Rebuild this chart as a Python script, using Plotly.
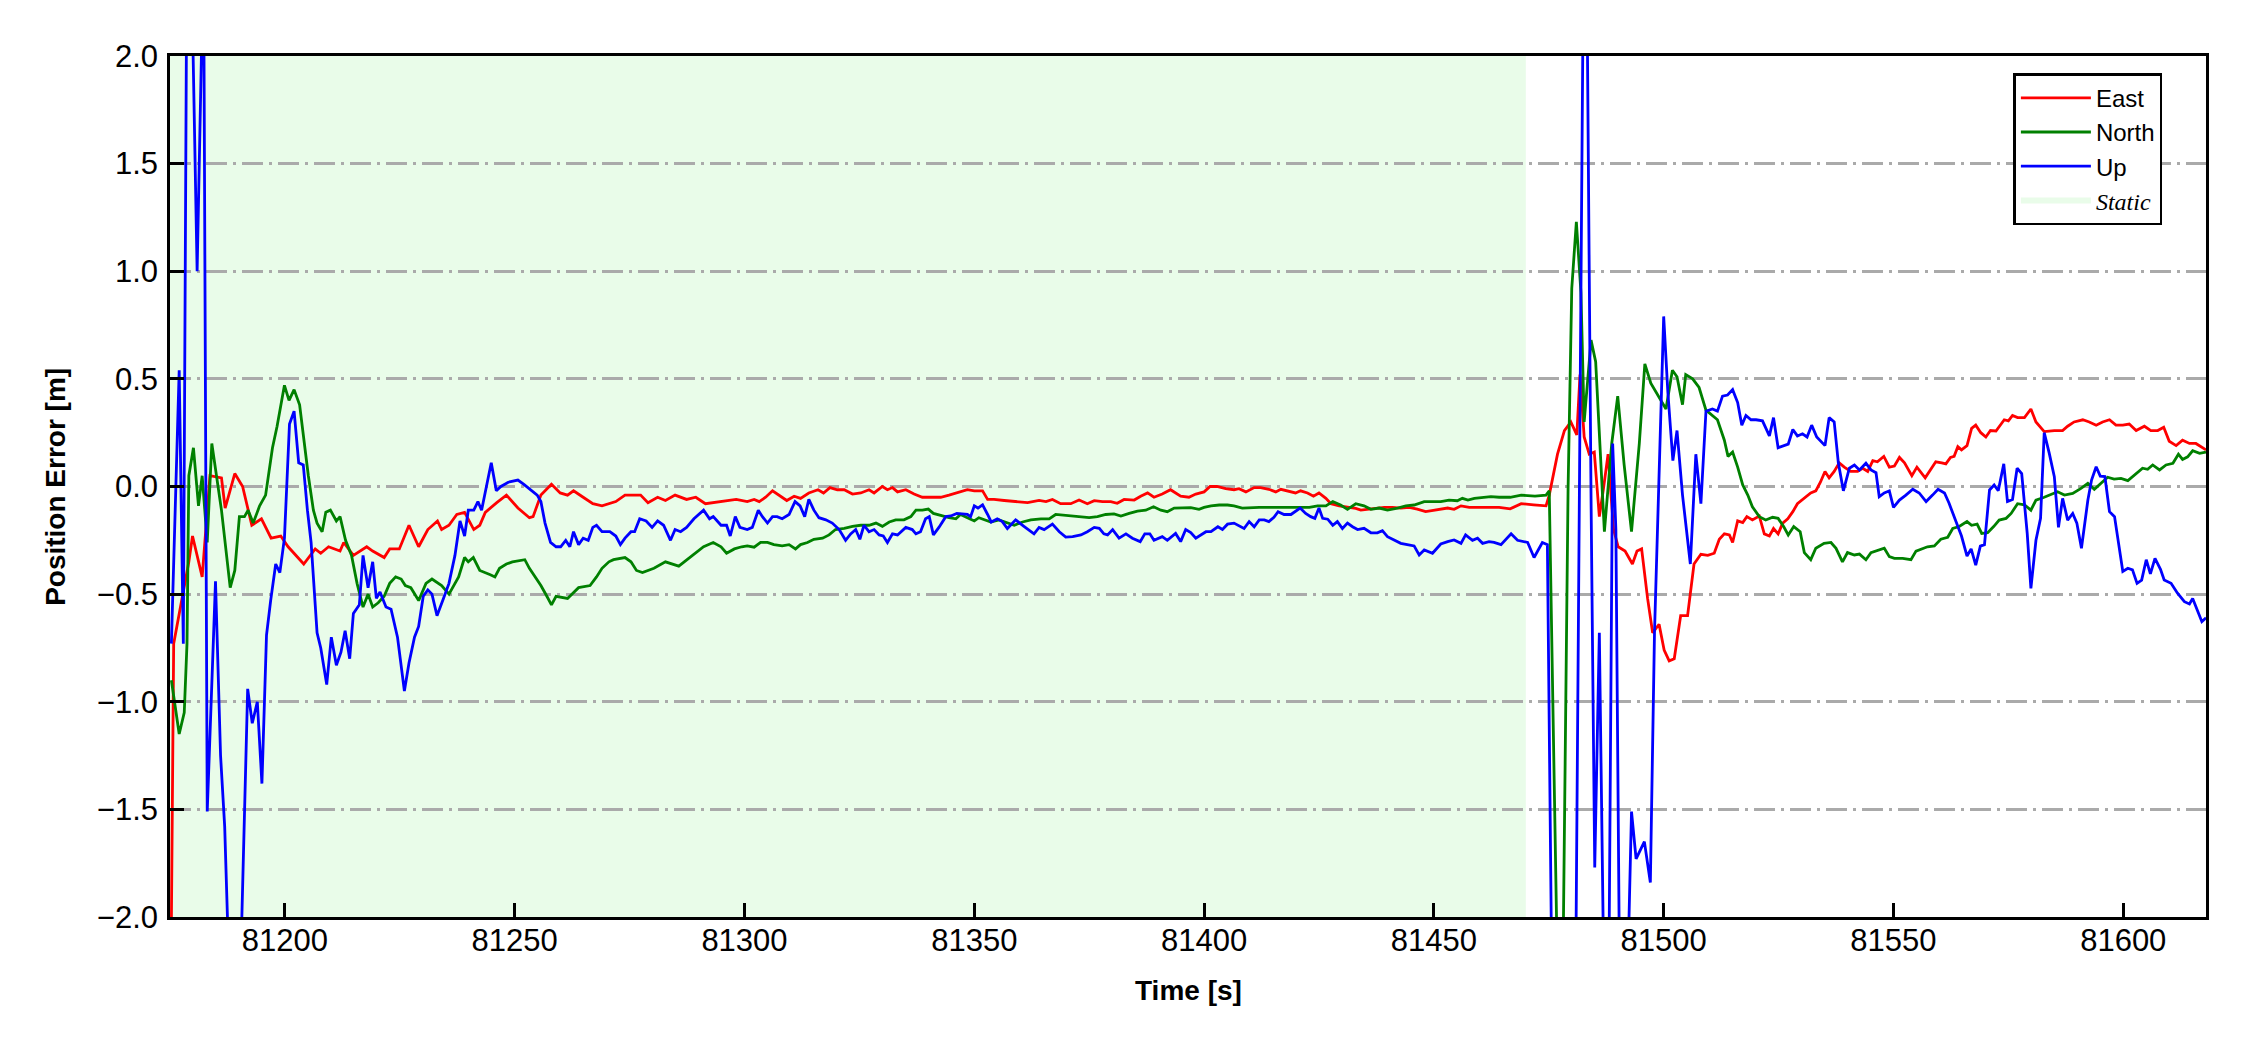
import plotly.graph_objects as go

# ---------------- data ----------------
east_t = [81175.0, 81175.8, 81179.1, 81179.9, 81182.0, 81183.7, 81186.2, 81187.0, 81189.1, 81190.8,
          81192.8, 81194.9, 81197.0, 81199.1, 81200.7, 81204.1, 81206.6, 81207.8, 81209.5, 81212.0,
          81212.8, 81214.9, 81217.8, 81219.1, 81221.6, 81222.8, 81224.9, 81227.0, 81229.1, 81231.1,
          81233.2, 81234.1, 81235.7, 81237.4, 81239.1, 81241.1, 81242.4, 81243.6, 81246.1, 81248.2,
          81250.7, 81253.2, 81254.0, 81255.7, 81258.0, 81259.9, 81261.5, 81262.8, 81264.9, 81267.0,
          81269.0, 81272.0, 81274.0, 81277.4, 81279.0, 81281.1, 81282.8, 81284.9, 81287.4, 81289.4,
          81291.5, 81293.2, 81295.7, 81298.2, 81300.6, 81302.1, 81303.2, 81304.6, 81306.1, 81307.5,
          81309.2, 81310.8, 81312.2, 81314.0, 81316.0, 81317.2, 81318.6, 81320.2, 81321.7, 81323.5,
          81325.3, 81327.1, 81328.2, 81330.0, 81331.1, 81332.2, 81333.3, 81335.1, 81336.9, 81338.7,
          81340.9, 81342.7, 81344.5, 81346.3, 81348.5, 81350.0, 81351.8, 81352.9, 81354.3, 81356.5,
          81358.7, 81361.6, 81364.1, 81365.6, 81367.0, 81368.8, 81371.0, 81372.8, 81374.6, 81376.1,
          81377.9, 81379.7, 81381.1, 81382.6, 81384.8, 81386.2, 81387.7, 81389.1, 81390.9, 81392.7,
          81394.9, 81396.7, 81398.2, 81400.0, 81401.3, 81402.8, 81404.7, 81406.5, 81407.6, 81409.1,
          81410.9, 81412.3, 81414.1, 81415.6, 81416.7, 81418.1, 81419.9, 81421.0, 81422.5, 81423.8,
          81425.0, 81426.5, 81427.6, 81429.4, 81431.2, 81433.0, 81434.1, 81435.6, 81437.4, 81439.2,
          81441.0, 81442.8, 81444.6, 81446.4, 81448.2, 81450.1, 81451.5, 81453.0, 81454.4, 81455.9,
          81457.7, 81459.5, 81461.7, 81464.2, 81466.6, 81469.0, 81471.7, 81474.4, 81475.1, 81476.9,
          81478.4, 81479.8, 81481.1, 81481.8, 81482.7, 81483.8, 81484.9, 81486.0, 81486.9, 81487.9,
          81489.1, 81490.1, 81491.6, 81493.2, 81494.2, 81495.2, 81496.5, 81497.6, 81499.0, 81500.1,
          81501.2, 81502.3, 81503.7, 81505.2, 81506.6, 81508.1, 81509.6, 81511.0, 81512.1, 81513.2,
          81514.3, 81515.0, 81516.1, 81517.2, 81518.1, 81519.3, 81520.8, 81521.9, 81523.0, 81523.9,
          81524.9, 81525.9, 81527.0, 81528.1, 81529.1, 81530.6, 81532.0, 81533.1, 81534.1, 81535.1,
          81536.0, 81537.1, 81538.2, 81539.3, 81540.7, 81542.2, 81543.3, 81544.4, 81545.5, 81546.5,
          81547.9, 81549.1, 81550.2, 81551.3, 81552.4, 81554.0, 81555.1, 81556.9, 81558.2, 81559.2,
          81560.5, 81561.4, 81562.4, 81563.2, 81564.0, 81564.8, 81566.0, 81567.0, 81567.9, 81569.0,
          81570.1, 81571.1, 81572.3, 81573.2, 81574.1, 81575.0, 81575.9, 81577.0, 81578.5, 81579.9,
          81581.0, 81582.8, 81585.0, 81586.8, 81587.9, 81589.3, 81591.2, 81592.6, 81594.1, 81595.5,
          81597.0, 81598.4, 81599.9, 81601.3, 81602.8, 81604.6, 81606.0, 81607.5, 81608.8, 81610.0,
          81611.5, 81612.9, 81614.4, 81615.8, 81618.0]
east_m = [-2.8, -0.73, -0.35, -0.23, -0.42, 0.05, 0.04, -0.10, 0.06, 0.0,
          -0.18, -0.15, -0.24, -0.23, -0.28, -0.36, -0.29, -0.31, -0.28, -0.30,
          -0.26, -0.32, -0.28, -0.30, -0.33, -0.29, -0.29, -0.18, -0.28, -0.20,
          -0.16, -0.20, -0.18, -0.13, -0.12, -0.20, -0.18, -0.12, -0.075, -0.04,
          -0.10, -0.145, -0.14, -0.04, 0.01, -0.03, -0.04, -0.02, -0.05, -0.08,
          -0.09, -0.07, -0.04, -0.04, -0.075, -0.05, -0.065, -0.04, -0.06, -0.05,
          -0.08, -0.075, -0.067, -0.06, -0.07, -0.06, -0.07, -0.05, -0.02, -0.04,
          -0.065, -0.045, -0.055, -0.03, -0.015, -0.03, -0.005, -0.015, -0.015, -0.035,
          -0.03, -0.015, -0.03, 0.0, -0.015, -0.005, -0.025, -0.015, -0.035, -0.05,
          -0.05, -0.05, -0.04, -0.03, -0.015, -0.02, -0.02, -0.06, -0.06, -0.065,
          -0.07, -0.075, -0.065, -0.07, -0.06, -0.08, -0.08, -0.063, -0.08, -0.066,
          -0.07, -0.07, -0.078, -0.06, -0.063, -0.045, -0.03, -0.05, -0.035, -0.015,
          -0.045, -0.05, -0.035, -0.025, 0.0, 0.0, -0.01, -0.015, -0.01, -0.025,
          -0.005, -0.005, -0.013, -0.025, -0.013, -0.02, -0.03, -0.02, -0.03, -0.045,
          -0.03, -0.055, -0.08, -0.09, -0.097, -0.102, -0.11, -0.106, -0.10, -0.097,
          -0.097, -0.10, -0.097, -0.105, -0.117, -0.11, -0.105, -0.10, -0.106, -0.09,
          -0.097, -0.097, -0.097, -0.097, -0.104, -0.08, -0.085, -0.09, -0.04, 0.15,
          0.26, 0.30, 0.24, 0.52, 0.23, 0.15, 0.16, -0.14, -0.01, 0.15,
          -0.20, -0.28, -0.30, -0.36, -0.30, -0.29, -0.52, -0.68, -0.64, -0.76,
          -0.81, -0.80, -0.60, -0.60, -0.36, -0.315, -0.32, -0.31, -0.245, -0.22,
          -0.225, -0.26, -0.16, -0.168, -0.14, -0.155, -0.137, -0.22, -0.23, -0.195,
          -0.22, -0.17, -0.15, -0.117, -0.08, -0.055, -0.03, -0.02, 0.02, 0.07,
          0.04, 0.07, 0.11, 0.09, 0.07, 0.07, 0.085, 0.07, 0.12, 0.115,
          0.14, 0.09, 0.095, 0.135, 0.11, 0.05, 0.09, 0.04, 0.085, 0.115,
          0.11, 0.105, 0.135, 0.14, 0.185, 0.17, 0.19, 0.27, 0.285, 0.25,
          0.23, 0.26, 0.258, 0.285, 0.31, 0.305, 0.33, 0.32, 0.32, 0.36,
          0.30, 0.255, 0.26, 0.26, 0.28, 0.30, 0.31, 0.30, 0.285, 0.30,
          0.31, 0.285, 0.285, 0.29, 0.26, 0.28, 0.26, 0.26, 0.275, 0.21,
          0.19, 0.215, 0.20, 0.20, 0.17]

north_t = [81175.3, 81177.0, 81178.1, 81178.7, 81179.1, 81180.1, 81181.2, 81182.0, 81183.1, 81184.1,
           81186.2, 81188.1, 81189.1, 81190.1, 81191.2, 81192.0, 81193.1, 81194.5, 81195.8, 81197.3,
           81198.3, 81199.9, 81200.9, 81202.0, 81203.2, 81204.1, 81205.1, 81206.2, 81207.0, 81208.1,
           81208.9, 81209.9, 81211.2, 81212.0, 81213.2, 81214.5, 81215.7, 81217.0, 81218.1, 81219.1,
           81220.3, 81221.6, 81222.8, 81224.1, 81225.3, 81226.2, 81227.4, 81229.1, 81230.7, 81232.0,
           81234.1, 81235.7, 81237.8, 81239.1, 81239.9, 81241.0, 81242.4, 81244.7, 81245.7, 81246.7,
           81248.2, 81249.5, 81252.2, 81253.2, 81254.5, 81255.7, 81257.0, 81258.0, 81259.0, 81261.5,
           81263.9, 81266.4, 81267.8, 81269.0, 81270.5, 81271.5, 81274.0, 81275.3, 81276.5, 81277.8,
           81280.3, 81282.8, 81285.7, 81288.6, 81291.1, 81293.2, 81294.9, 81296.1, 81297.8, 81299.4,
           81300.6, 81302.1, 81303.5, 81305.0, 81306.4, 81308.2, 81309.7, 81311.1, 81312.2, 81313.7,
           81315.1, 81317.0, 81318.4, 81319.8, 81321.7, 81323.5, 81325.3, 81327.1, 81328.6, 81330.0,
           81331.5, 81332.9, 81334.7, 81336.2, 81337.3, 81338.7, 81340.0, 81341.1, 81342.7, 81344.5,
           81346.0, 81347.0, 81348.5, 81350.0, 81351.0, 81352.1, 81353.6, 81355.4, 81357.2, 81358.7,
           81360.5, 81362.3, 81364.5, 81366.3, 81367.7, 81369.9, 81371.7, 81373.2, 81375.0, 81376.8,
           81378.6, 81380.4, 81381.9, 81383.7, 81385.5, 81387.3, 81389.0, 81390.6, 81392.0, 81393.5,
           81395.3, 81397.1, 81398.9, 81400.0, 81401.5, 81403.3, 81405.1, 81406.5, 81408.3, 81410.2,
           81412.0, 81413.8, 81415.6, 81417.4, 81419.2, 81421.0, 81422.9, 81424.7, 81426.5, 81428.0,
           81429.7, 81431.2, 81433.0, 81434.8, 81436.3, 81438.1, 81439.9, 81442.1, 81443.9, 81445.7,
           81447.9, 81449.7, 81451.5, 81453.3, 81455.1, 81456.2, 81457.4, 81458.8, 81460.6, 81462.4,
           81464.2, 81466.6, 81469.0, 81472.0, 81474.4, 81475.1, 81477.0, 81478.0, 81479.2, 81480.0,
           81481.0, 81482.0, 81482.7, 81484.2, 81485.2, 81487.1, 81488.7, 81490.0, 81491.4, 81493.0,
           81494.7, 81495.9, 81497.2, 81499.4, 81500.5, 81501.9, 81502.9, 81504.1, 81504.8, 81506.3,
           81507.7, 81509.2, 81510.6, 81511.7, 81513.2, 81514.0, 81515.0, 81516.1, 81517.2, 81518.3,
           81519.3, 81520.8, 81522.2, 81523.7, 81524.9, 81526.1, 81527.1, 81528.3, 81529.7, 81530.6,
           81532.0, 81533.1, 81534.9, 81536.4, 81537.5, 81538.9, 81540.0, 81541.5, 81542.6, 81544.0,
           81545.1, 81546.5, 81548.0, 81549.1, 81550.2, 81552.0, 81553.8, 81554.9, 81556.3, 81557.4,
           81558.9, 81560.3, 81561.8, 81562.9, 81564.3, 81566.0, 81567.0, 81568.2, 81569.2, 81570.5,
           81571.8, 81573.0, 81574.5, 81575.6, 81577.0, 81578.5, 81579.9, 81581.0, 81582.8, 81584.3,
           81585.7, 81587.2, 81589.0, 81590.8, 81592.3, 81593.7, 81595.1, 81596.6, 81598.0, 81599.5,
           81601.0, 81602.8, 81604.2, 81605.3, 81606.4, 81607.9, 81609.3, 81610.8, 81612.0, 81612.9,
           81614.0, 81615.1, 81616.6, 81618.0]
north_m = [-0.90, -1.15, -1.05, -0.73, 0.05, 0.18, -0.09, 0.05, -0.26, 0.20,
           -0.11, -0.47, -0.39, -0.14, -0.14, -0.11, -0.17, -0.09, -0.04, 0.18,
           0.28, 0.47, 0.40, 0.45, 0.38, 0.21, 0.05, -0.11, -0.17, -0.21,
           -0.12, -0.11, -0.16, -0.14, -0.25, -0.32, -0.45, -0.56, -0.50, -0.56,
           -0.54, -0.51, -0.45, -0.42, -0.43, -0.46, -0.47, -0.53, -0.45, -0.43,
           -0.46, -0.50, -0.42, -0.33, -0.35, -0.33, -0.39, -0.41, -0.42, -0.38,
           -0.36, -0.35, -0.34, -0.38, -0.42, -0.46, -0.51, -0.55, -0.51, -0.52,
           -0.47, -0.46, -0.42, -0.38, -0.35, -0.34, -0.33, -0.35, -0.39, -0.40,
           -0.38, -0.35, -0.37, -0.32, -0.28, -0.26, -0.28, -0.31, -0.29, -0.28,
           -0.276, -0.282, -0.26, -0.26, -0.27, -0.276, -0.27, -0.29, -0.27, -0.26,
           -0.245, -0.24, -0.225, -0.20, -0.195, -0.185, -0.18, -0.18, -0.17, -0.185,
           -0.165, -0.155, -0.155, -0.14, -0.11, -0.11, -0.105, -0.125, -0.135, -0.145,
           -0.15, -0.13, -0.145, -0.16, -0.145, -0.155, -0.165, -0.155, -0.17, -0.18,
           -0.165, -0.155, -0.15, -0.15, -0.13, -0.135, -0.14, -0.14, -0.145, -0.14,
           -0.13, -0.127, -0.137, -0.125, -0.114, -0.11, -0.094, -0.11, -0.117, -0.10,
           -0.10, -0.098, -0.106, -0.097, -0.09, -0.086, -0.086, -0.09, -0.10, -0.097,
           -0.097, -0.097, -0.097, -0.10, -0.10, -0.10, -0.097, -0.09, -0.09, -0.07,
           -0.086, -0.106, -0.08, -0.09, -0.106, -0.10, -0.11, -0.10, -0.09, -0.086,
           -0.07, -0.07, -0.07, -0.063, -0.066, -0.055, -0.063, -0.055, -0.05, -0.047,
           -0.05, -0.05, -0.04, -0.045, -0.04, -0.02, -2.4, -2.4, -0.01, 0.92,
           1.23, 0.90, 0.30, 0.68, 0.58, -0.21, 0.20, 0.42, 0.10, -0.21,
           0.20, 0.57, 0.48, 0.40, 0.36, 0.54, 0.51, 0.38, 0.52, 0.50,
           0.46, 0.355, 0.33, 0.31, 0.215, 0.14, 0.16, 0.09, 0.007, -0.04,
           -0.094, -0.14, -0.156, -0.143, -0.148, -0.186, -0.225, -0.186, -0.21, -0.307,
           -0.34, -0.287, -0.264, -0.26, -0.287, -0.35, -0.307, -0.318, -0.314, -0.34,
           -0.307, -0.298, -0.287, -0.326, -0.334, -0.334, -0.34, -0.30, -0.287, -0.28,
           -0.276, -0.245, -0.236, -0.195, -0.186, -0.163, -0.18, -0.175, -0.218, -0.215,
           -0.186, -0.156, -0.148, -0.125, -0.08, -0.085, -0.11, -0.063, -0.05, -0.035,
           -0.024, -0.04, -0.032, -0.009, 0.015, -0.013, 0.015, 0.043, 0.034, 0.038,
           0.027, 0.058, 0.085, 0.08, 0.10, 0.077, 0.10, 0.108, 0.15, 0.126,
           0.138, 0.166, 0.154, 0.16]

up_t = [81175.3, 81177.0, 81177.9, 81178.7, 81179.6, 81180.9, 81182.3, 81183.1, 81184.9, 81186.0,
        81186.9, 81188.5, 81189.8, 81191.9, 81192.9, 81194.0, 81195.0, 81196.0, 81196.9, 81198.0,
        81198.9, 81199.9, 81201.0, 81202.0, 81203.0, 81204.0, 81204.9, 81205.7, 81207.0, 81207.8,
        81209.1, 81210.1, 81211.2, 81212.2, 81213.1, 81214.1, 81214.9, 81216.2, 81217.0, 81218.1,
        81219.1, 81219.9, 81220.7, 81222.0, 81223.1, 81224.5, 81226.0, 81227.0, 81228.2, 81229.1,
        81230.1, 81231.1, 81232.0, 81233.1, 81234.5, 81235.7, 81237.0, 81238.1, 81239.1, 81239.9,
        81241.1, 81242.0, 81242.8, 81243.9, 81244.9, 81246.0, 81247.0, 81248.6, 81250.7, 81252.0,
        81253.2, 81254.9, 81255.7, 81256.6, 81257.8, 81259.0, 81260.0, 81261.1, 81262.0, 81262.8,
        81263.9, 81264.9, 81266.0, 81267.0, 81267.8, 81269.0, 81270.7, 81272.0, 81273.0, 81274.0,
        81275.3, 81276.1, 81277.2, 81278.6, 81279.9, 81281.1, 81282.4, 81283.9, 81284.9, 81286.1,
        81287.4, 81289.0, 81291.1, 81292.4, 81293.2, 81294.9, 81296.1, 81296.9, 81298.0, 81299.0,
        81300.6, 81301.7, 81303.0, 81303.9, 81305.0, 81306.1, 81307.1, 81308.2, 81309.7, 81311.0,
        81312.1, 81313.1, 81314.0, 81315.1, 81316.2, 81317.7, 81319.1, 81320.6, 81322.0, 81323.1,
        81324.2, 81325.1, 81326.0, 81327.1, 81328.2, 81329.3, 81330.2, 81331.1, 81332.2, 81333.3,
        81335.1, 81336.5, 81337.3, 81338.3, 81339.4, 81340.2, 81341.1, 81342.3, 81343.8, 81344.9,
        81346.2, 81347.4, 81348.5, 81349.2, 81350.0, 81350.8, 81351.8, 81352.9, 81353.7, 81355.0,
        81356.1, 81357.2, 81359.0, 81360.8, 81362.3, 81363.0, 81364.1, 81365.2, 81367.0, 81368.5,
        81369.9, 81371.4, 81373.2, 81374.6, 81376.1, 81377.2, 81378.2, 81379.0, 81380.1, 81381.5,
        81383.0, 81384.4, 81386.1, 81387.1, 81388.2, 81389.1, 81390.9, 81392.0, 81393.8, 81394.9,
        81396.0, 81397.1, 81398.2, 81399.3, 81400.4, 81401.5, 81403.0, 81404.0, 81405.1, 81406.5,
        81407.6, 81408.7, 81409.8, 81410.9, 81412.0, 81413.1, 81414.1, 81415.2, 81416.1, 81417.4,
        81418.9, 81419.7, 81420.9, 81422.1, 81423.2, 81424.1, 81425.0, 81425.8, 81426.9, 81428.0,
        81429.0, 81430.1, 81431.2, 81432.3, 81433.4, 81434.8, 81436.3, 81437.7, 81438.8, 81439.9,
        81441.4, 81442.8, 81444.2, 81445.7, 81446.8, 81447.9, 81449.7, 81451.5, 81453.0, 81454.4,
        81455.9, 81456.9, 81458.4, 81459.5, 81460.6, 81462.0, 81463.1, 81464.6, 81466.8, 81468.2,
        81470.4, 81471.8, 81473.6, 81474.7, 81476.0, 81480.6, 81482.6, 81483.2, 81484.2, 81485.0,
        81486.0, 81487.3, 81487.9, 81488.9, 81489.6, 81490.6, 81491.8, 81493.0, 81494.0, 81495.8,
        81497.1, 81498.0, 81500.0, 81500.9, 81502.0, 81502.9, 81504.1, 81505.8, 81507.0, 81508.1,
        81509.2, 81510.6, 81511.7, 81512.8, 81513.9, 81515.0, 81516.1, 81517.0, 81517.9, 81519.0,
        81520.1, 81521.5, 81523.0, 81523.9, 81524.9, 81526.1, 81527.1, 81528.1, 81529.1, 81530.2,
        81531.2, 81532.2, 81533.3, 81535.1, 81536.0, 81537.1, 81538.0, 81539.1, 81540.4, 81541.5,
        81542.6, 81544.0, 81545.1, 81546.2, 81546.9, 81548.0, 81549.1, 81550.0, 81551.3, 81552.7,
        81554.2, 81555.6, 81557.1, 81558.5, 81559.7, 81561.1, 81562.1, 81563.6, 81564.8, 81566.0,
        81566.9, 81567.9, 81568.9, 81569.8, 81570.9, 81571.9, 81572.8, 81574.0, 81574.8, 81575.9,
        81576.9, 81577.9, 81579.1, 81579.9, 81581.0, 81582.0, 81582.8, 81583.9, 81585.0, 81585.9,
        81586.8, 81587.9, 81589.0, 81589.9, 81590.9, 81592.3, 81593.1, 81594.1, 81595.0, 81596.0,
        81597.0, 81598.1, 81598.8, 81599.9, 81601.0, 81602.0, 81603.0, 81604.0, 81605.0, 81605.9,
        81606.9, 81608.1, 81608.9, 81610.4, 81611.8, 81613.3, 81614.4, 81615.1, 81616.2, 81617.1,
        81618.0]
up_m = [-0.73, 0.54, -0.73, 2.6, 2.5, 1.0, 2.5, -1.51, -0.44, -1.25,
        -1.58, -2.7, -2.7, -0.94, -1.10, -1.0, -1.38, -0.69, -0.53, -0.36,
        -0.40, -0.24, 0.29, 0.35, 0.11, 0.10, -0.11, -0.26, -0.68, -0.75,
        -0.92, -0.70, -0.83, -0.77, -0.67, -0.80, -0.59, -0.55, -0.32, -0.47,
        -0.35, -0.52, -0.49, -0.56, -0.57, -0.70, -0.95, -0.82, -0.70, -0.65,
        -0.51, -0.48, -0.50, -0.60, -0.52, -0.45, -0.32, -0.16, -0.23, -0.11,
        -0.11, -0.07, -0.11, 0.0, 0.11, -0.02, 0.0, 0.02, 0.03, 0.01,
        -0.01, -0.04, -0.07, -0.17, -0.26, -0.28, -0.28, -0.25, -0.28, -0.21,
        -0.27, -0.24, -0.25, -0.19, -0.18, -0.21, -0.21, -0.23, -0.27, -0.24,
        -0.21, -0.21, -0.15, -0.16, -0.19, -0.16, -0.18, -0.25, -0.20, -0.21,
        -0.19, -0.15, -0.11, -0.15, -0.14, -0.18, -0.18, -0.23, -0.14, -0.19,
        -0.20, -0.19, -0.11, -0.14, -0.17, -0.14, -0.14, -0.15, -0.13, -0.07,
        -0.09, -0.14, -0.06, -0.11, -0.145, -0.155, -0.17, -0.20, -0.25, -0.22,
        -0.20, -0.245, -0.18, -0.21, -0.20, -0.225, -0.23, -0.26, -0.22, -0.225,
        -0.19, -0.20, -0.22, -0.21, -0.15, -0.14, -0.225, -0.19, -0.14, -0.137,
        -0.125, -0.128, -0.13, -0.14, -0.09, -0.10, -0.085, -0.13, -0.165, -0.15,
        -0.163, -0.195, -0.155, -0.185, -0.21, -0.22, -0.19, -0.20, -0.175, -0.21,
        -0.235, -0.233, -0.225, -0.21, -0.19, -0.194, -0.22, -0.225, -0.20, -0.24,
        -0.22, -0.24, -0.256, -0.22, -0.22, -0.25, -0.233, -0.25, -0.218, -0.256,
        -0.20, -0.214, -0.24, -0.225, -0.21, -0.21, -0.187, -0.20, -0.175, -0.17,
        -0.183, -0.195, -0.163, -0.187, -0.155, -0.155, -0.163, -0.143, -0.117, -0.13,
        -0.13, -0.117, -0.10, -0.125, -0.14, -0.148, -0.10, -0.148, -0.152, -0.18,
        -0.163, -0.195, -0.17, -0.187, -0.20, -0.194, -0.215, -0.215, -0.205, -0.233,
        -0.25, -0.264, -0.27, -0.276, -0.318, -0.295, -0.31, -0.267, -0.256, -0.248,
        -0.264, -0.225, -0.25, -0.24, -0.264, -0.256, -0.26, -0.27, -0.22, -0.25,
        -0.26, -0.33, -0.26, -0.27, -3.0, -3.0, 2.6, 2.6, -0.06, -1.77,
        -0.68, -2.8, -2.8, 0.20, -0.20, -2.8, -2.6, -1.51, -1.73, -1.65,
        -1.84, -0.68, 0.79, 0.44, 0.12, 0.26, -0.04, -0.36, 0.15, -0.08,
        0.35, 0.36, 0.35, 0.42, 0.425, 0.45, 0.39, 0.285, 0.33, 0.31,
        0.31, 0.305, 0.235, 0.32, 0.18, 0.19, 0.197, 0.265, 0.235, 0.245,
        0.23, 0.285, 0.23, 0.19, 0.32, 0.30, 0.11, -0.02, 0.085, 0.10,
        0.077, 0.108, 0.077, 0.064, -0.047, -0.03, -0.02, -0.097, -0.063, -0.04,
        -0.013, -0.03, -0.07, -0.04, -0.013, -0.03, -0.078, -0.163, -0.23, -0.323,
        -0.29, -0.365, -0.277, -0.27, -0.016, 0.007, -0.02, 0.105, -0.07, -0.06,
        0.085, 0.06, -0.218, -0.473, -0.25, -0.148, 0.25, 0.154, 0.046, -0.19,
        -0.055, -0.156, -0.125, -0.17, -0.287, -0.063, 0.03, 0.092, 0.048, 0.046,
        -0.117, -0.14, -0.233, -0.395, -0.38, -0.387, -0.45, -0.435, -0.34, -0.406,
        -0.334, -0.385, -0.434, -0.45, -0.496, -0.535, -0.546, -0.52, -0.58, -0.628,
        -0.61]

static_span = [81175.0, 81470.0]

x_range = [81175.0, 81618.0]
y_range = [-2.0, 2.0]
x_ticks = [81200, 81250, 81300, 81350, 81400, 81450, 81500, 81550, 81600]
x_tick_labels = ["81200", "81250", "81300", "81350", "81400", "81450", "81500", "81550", "81600"]
y_ticks = [-2.0, -1.5, -1.0, -0.5, 0.0, 0.5, 1.0, 1.5, 2.0]
y_tick_labels = ["\u22122.0", "\u22121.5", "\u22121.0", "\u22120.5", "0.0", "0.5", "1.0", "1.5", "2.0"]

# ---------------- figure ----------------
SANS = "Liberation Sans, Arial, Helvetica, sans-serif"
STATIC_COLOR = "#e9fce9"

fig = go.Figure()

fig.add_shape(type="rect", xref="x", yref="paper",
              x0=static_span[0], x1=static_span[1], y0=0, y1=1,
              fillcolor=STATIC_COLOR, line_width=0, layer="below")

for name, tt, vv, col in [("East", east_t, east_m, "#ff0000"),
                          ("North", north_t, north_m, "#008000"),
                          ("Up", up_t, up_m, "#0000ff")]:
    fig.add_trace(go.Scatter(x=tt, y=vv, mode="lines", name=name,
                             line=dict(color=col, width=2.8)))

# legend entry for the static period (drawn off-range; the visible band is the shape)
fig.add_trace(go.Scatter(
    x=[static_span[0], static_span[1], static_span[1], static_span[0]],
    y=[-9, -9, -8, -8], fill="toself", fillcolor=STATIC_COLOR, mode="none",
    name='<span style="font-family:Liberation Serif, Times New Roman, serif"><i>Static</i></span>',
    hoverinfo="skip"))

axis_common = dict(
    showline=True, linewidth=2.5, linecolor="black", mirror=True,
    ticks="inside", ticklen=14, tickwidth=2.5, tickcolor="black",
    zeroline=False,
    tickfont=dict(family=SANS, size=31, color="black"),
)

fig.update_xaxes(range=x_range, tickvals=x_ticks, ticktext=x_tick_labels, showgrid=False,
                 ticklabelstandoff=-6, **axis_common)
fig.update_yaxes(range=y_range, tickvals=y_ticks, ticktext=y_tick_labels,
                 showgrid=True, gridcolor="#aaaaaa", gridwidth=2.5,
                 griddash="21px,6px,3px,6px", ticklabelstandoff=3, **axis_common)

fig.add_annotation(text="<b>Time [s]</b>", xref="paper", yref="paper",
                   x=0.5, y=-0.085, xanchor="center", yanchor="middle",
                   showarrow=False, font=dict(family=SANS, size=28, color="black"))
fig.add_annotation(text="<b>Position Error [m]</b>", xref="paper", yref="paper",
                   x=-0.0563, y=0.5, xanchor="center", yanchor="middle", textangle=-90,
                   showarrow=False, font=dict(family=SANS, size=28, color="black"))

# page body has an 8px margin, so the figure is 8px smaller than the window
fig.update_layout(
    width=2242, height=1042,
    margin=dict(l=162, r=44, t=48, b=133),
    paper_bgcolor="white", plot_bgcolor="white",
    showlegend=True,
    legend=dict(x=0.9054, y=0.980, xanchor="left", yanchor="top",
                bgcolor="white", bordercolor="black", borderwidth=2.5,
                font=dict(family=SANS, size=24, color="black"),
                itemwidth=70, tracegroupgap=0),
    hovermode=False,
)

fig.write_html("out.html")
